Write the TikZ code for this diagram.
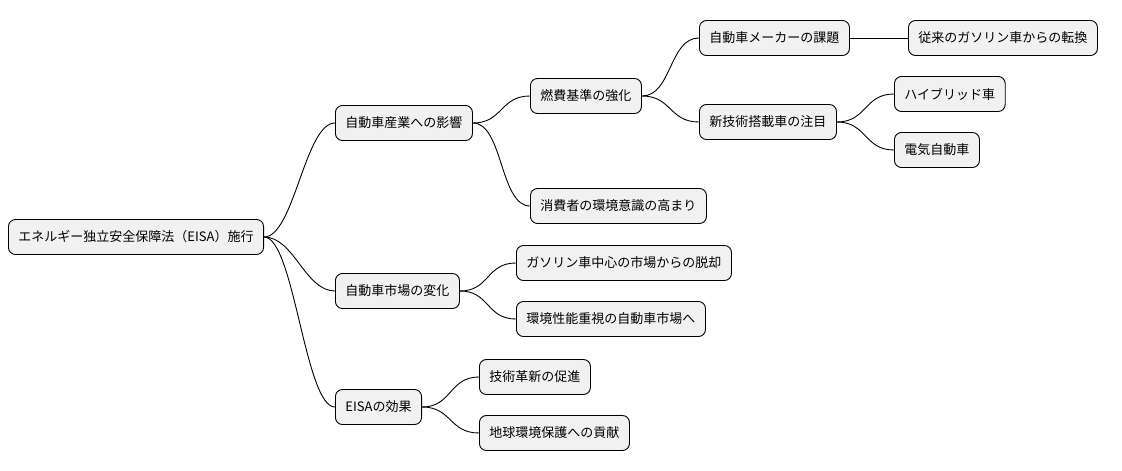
\documentclass[tikz,border=0pt]{standalone}
\usepackage{fontspec}
\setmainfont{Noto Sans CJK JP}
\begin{document}
\begin{tikzpicture}[x=1pt,y=-1pt,
  box/.style={draw=black,line width=0.9pt,fill={rgb,255:red,241;green,241;blue,241},rounded corners=7pt,anchor=west,minimum height=35pt,inner xsep=10pt,font=\fontsize{13}{15}\selectfont},
  lk/.style={draw=black,line width=0.9pt}]
\useasboundingbox (0,0) rectangle (1122,471);
\node[box] (r) at (8,237) {エネルギー独立安全保障法（EISA）施行};
\node[box] (a) at (335,123) {自動車産業への影響};
\node[box] (b) at (335,291) {自動車市場の変化};
\node[box] (c) at (335,407) {EISAの効果};
\node[box] (a1) at (530,96) {燃費基準の強化};
\node[box] (a2) at (530,206) {消費者の環境意識の高まり};
\node[box] (b1) at (516,263) {ガソリン車中心の市場からの脱却};
\node[box] (b2) at (516,319) {環境性能重視の自動車市場へ};
\node[box] (c1) at (479,377) {技術革新の促進};
\node[box] (c2) at (479,433) {地球環境保護への貢献};
\node[box] (d1) at (699,38) {自動車メーカーの課題};
\node[box] (d2) at (699,122) {新技術搭載車の注目};
\node[box] (e1) at (908,38) {従来のガソリン車からの転換};
\node[box] (f1) at (894,94) {ハイブリッド車};
\node[box] (f2) at (894,150) {電気自動車};
\foreach \p/\q in {r/a,r/b,r/c,a/a1,a/a2,b/b1,b/b2,c/c1,c/c2,a1/d1,a1/d2,d1/e1,d2/f1,d2/f2}
  \draw[lk] (\p.east) .. controls ([xshift=30pt]\p.east) and ([xshift=-30pt]\q.west) .. (\q.west);
\end{tikzpicture}
\end{document}
